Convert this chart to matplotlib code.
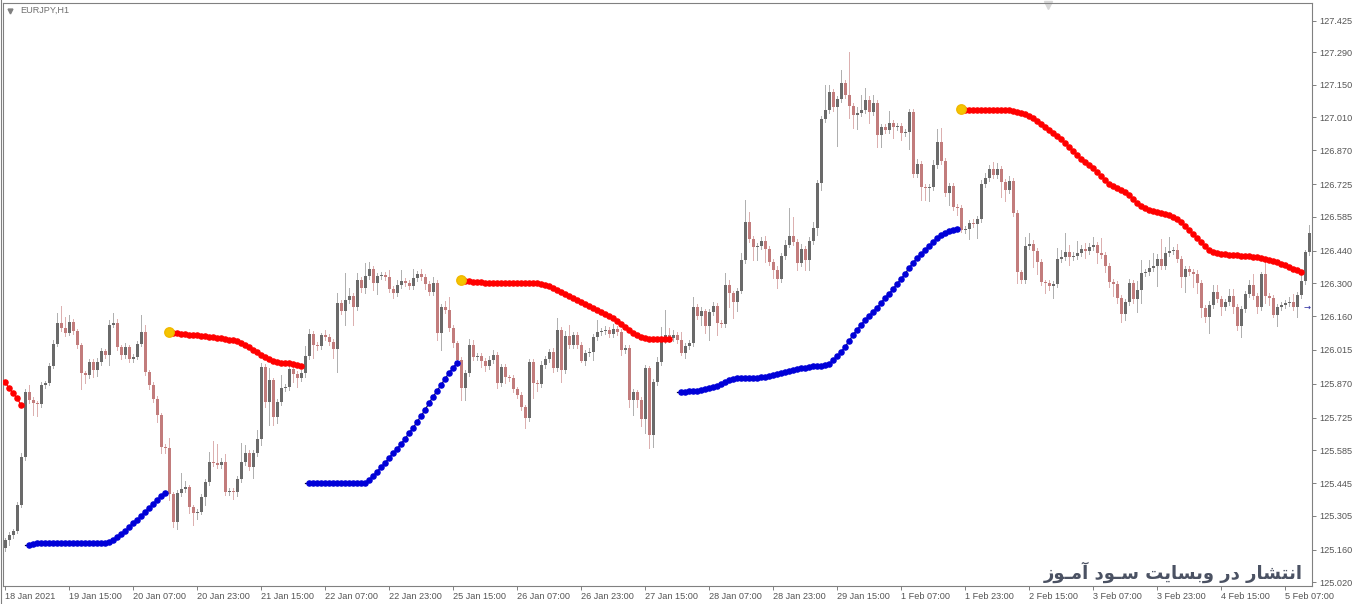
import numpy as np
import matplotlib

matplotlib.use("Agg")
import matplotlib.pyplot as plt
from matplotlib.lines import Line2D

# ---- data ------------------------------------------------------------------
symbol = "EURJPY,H1"
first_open = 125.168

closes = [
    125.201, 125.222, 125.239, 125.351, 125.556, 125.834, 125.800, 125.787, 125.785, 125.864,
    125.873, 125.946, 126.040, 126.131, 126.109, 126.088, 126.135, 126.096, 126.036, 125.916,
    125.907, 125.963, 125.929, 125.963, 126.010, 125.993, 126.122, 126.131, 126.027, 125.993,
    126.027, 125.976, 125.984, 126.040, 126.092, 125.920, 125.864, 125.804, 125.736, 125.599,
    125.594, 125.398, 125.278, 125.402, 125.419, 125.428, 125.342, 125.316, 125.321, 125.385,
    125.449, 125.535, 125.531, 125.522, 125.535, 125.406, 125.411, 125.406, 125.462, 125.535,
    125.573, 125.513, 125.573, 125.633, 125.942, 125.792, 125.886, 125.727, 125.792, 125.852,
    125.856, 125.933, 125.912, 125.894, 125.916, 125.989, 126.083, 126.036, 126.032, 126.079,
    126.070, 126.049, 126.019, 126.216, 126.181, 126.229, 126.246, 126.199, 126.314, 126.280,
    126.331, 126.361, 126.301, 126.331, 126.336, 126.327, 126.276, 126.259, 126.293, 126.310,
    126.301, 126.288, 126.323, 126.340, 126.327, 126.297, 126.263, 126.301, 126.087, 126.199,
    126.186, 126.109, 126.044, 125.972, 125.852, 125.916, 126.036, 125.984, 125.989, 125.967,
    125.946, 125.972, 125.993, 125.873, 125.942, 125.899, 125.897, 125.847, 125.822, 125.770,
    125.723, 125.963, 125.873, 125.869, 125.950, 125.976, 126.006, 125.937, 126.100, 125.929,
    126.074, 126.036, 126.079, 126.036, 125.967, 126.002, 126.006, 126.070, 126.092, 126.096,
    126.100, 126.083, 126.104, 126.092, 126.014, 126.023, 125.800, 125.834, 125.800, 125.719,
    125.937, 125.650, 125.877, 125.963, 126.057, 126.079, 126.066, 126.079, 126.057, 126.002,
    126.032, 126.044, 126.199, 126.160, 126.181, 126.117, 126.177, 126.203, 126.130, 126.128,
    126.293, 126.259, 126.220, 126.267, 126.400, 126.563, 126.490, 126.455, 126.460, 126.481,
    126.447, 126.391, 126.357, 126.318, 126.417, 126.464, 126.503, 126.477, 126.387, 126.447,
    126.400, 126.481, 126.537, 126.729, 127.003, 127.042, 127.119, 127.055, 127.089, 127.158,
    127.106, 127.059, 127.021, 127.029, 127.042, 127.085, 127.033, 127.072, 126.935, 126.969,
    126.956, 126.986, 126.969, 126.973, 126.944, 126.948, 127.033, 126.768, 126.811, 126.712,
    126.708, 126.714, 126.807, 126.905, 126.824, 126.687, 126.717, 126.627, 126.622, 126.528,
    126.532, 126.558, 126.554, 126.575, 126.725, 126.751, 126.789, 126.764, 126.789, 126.734,
    126.699, 126.738, 126.601, 126.348, 126.314, 126.460, 126.468, 126.438, 126.391, 126.306,
    126.301, 126.288, 126.297, 126.404, 126.413, 126.434, 126.413, 126.417, 126.430, 126.447,
    126.438, 126.455, 126.464, 126.430, 126.421, 126.374, 126.306, 126.297, 126.237, 126.168,
    126.220, 126.301, 126.233, 126.271, 126.344, 126.348, 126.365, 126.374, 126.404, 126.374,
    126.430, 126.438, 126.443, 126.404, 126.327, 126.361, 126.348, 126.340, 126.301, 126.194,
    126.156, 126.207, 126.263, 126.233, 126.199, 126.220, 126.246, 126.199, 126.117, 126.190,
    126.254, 126.293, 126.246, 126.199, 126.340, 126.246, 126.237, 126.164, 126.199, 126.207,
    126.216, 126.220, 126.199, 126.250, 126.310, 126.434, 126.515,
]

# wick lengths in points (0.001 JPY) above / below the body
wick_up = [
    9, 13, 9, 13, 17, 13, 30, 13, 9, 13,
    9, 13, 17, 43, 73, 47, 30, 13, 9, 9,
    9, 13, 13, 17, 13, 9, 21, 43, 17, 9,
    17, 9, 13, 13, 73, 30, 9, 13, 13, 9,
    13, 43, 9, 13, 68, 26, 9, 9, 13, 13,
    13, 43, 90, 81, 17, 34, 13, 13, 13, 81,
    34, 13, 13, 39, 17, 13, 51, 9, 13, 56,
    13, 17, 13, 13, 13, 43, 21, 13, 13, 9,
    21, 13, 13, 43, 13, 115, 34, 13, 30, 13,
    56, 30, 13, 13, 13, 13, 30, 13, 21, 47,
    13, 13, 39, 13, 21, 13, 13, 26, 13, 13,
    26, 56, 13, 9, 13, 13, 26, 21, 13, 13,
    13, 17, 21, 13, 13, 13, 9, 13, 9, 13,
    9, 13, 13, 13, 17, 13, 13, 17, 51, 13,
    21, 47, 13, 13, 13, 13, 17, 13, 51, 13,
    17, 13, 21, 13, 13, 13, 13, 13, 9, 13,
    13, 9, 13, 21, 56, 107, 30, 21, 13, 34,
    13, 13, 43, 13, 17, 9, 13, 17, 13, 13,
    51, 21, 9, 13, 30, 94, 43, 13, 13, 17,
    21, 13, 13, 17, 13, 21, 120, 81, 13, 21,
    13, 17, 26, 13, 13, 107, 30, 13, 13, 56,
    13, 184, 13, 26, 64, 51, 17, 34, 13, 13,
    13, 51, 13, 13, 13, 13, 13, 13, 21, 13,
    13, 13, 21, 56, 60, 13, 13, 13, 13, 13,
    13, 13, 17, 13, 17, 21, 17, 30, 26, 13,
    13, 21, 13, 13, 9, 39, 47, 17, 13, 13,
    9, 13, 13, 47, 30, 81, 30, 17, 51, 17,
    26, 17, 34, 13, 64, 13, 13, 13, 13, 13,
    13, 17, 13, 39, 56, 13, 34, 56, 21, 85,
    26, 60, 13, 26, 13, 13, 13, 13, 17, 13,
    13, 17, 30, 30, 13, 13, 30, 30, 13, 13,
    13, 21, 47, 13, 9, 51, 13, 13, 13, 13,
    13, 21, 34, 13, 39, 9, 34,
]
wick_dn = [
    13, 21, 13, 9, 9, 13, 13, 51, 51, 13,
    13, 9, 9, 9, 13, 13, 9, 13, 13, 68,
    34, 13, 30, 26, 13, 13, 43, 9, 13, 17,
    13, 13, 13, 9, 9, 13, 17, 13, 30, 26,
    21, 26, 21, 30, 13, 13, 26, 51, 26, 9,
    34, 13, 13, 13, 13, 13, 13, 30, 17, 13,
    13, 13, 47, 13, 26, 21, 98, 34, 26, 13,
    13, 13, 34, 39, 13, 17, 13, 56, 17, 13,
    13, 13, 39, 98, 13, 60, 13, 77, 13, 17,
    21, 13, 30, 47, 13, 13, 13, 21, 13, 13,
    13, 13, 13, 13, 13, 21, 13, 13, 30, 73,
    13, 13, 17, 26, 51, 51, 13, 13, 13, 26,
    21, 13, 13, 21, 13, 26, 13, 13, 13, 13,
    43, 13, 64, 30, 13, 13, 13, 17, 13, 51,
    13, 13, 13, 13, 4, 17, 13, 34, 13, 13,
    13, 13, 13, 13, 21, 13, 30, 64, 30, 30,
    60, 56, 51, 13, 13, 13, 17, 13, 13, 9,
    21, 13, 13, 13, 39, 30, 60, 13, 51, 13,
    13, 60, 68, 39, 9, 13, 13, 56, 56, 13,
    56, 13, 34, 38, 13, 13, 9, 13, 30, 13,
    43, 43, 13, 30, 30, 13, 13, 17, 167, 13,
    13, 51, 56, 60, 13, 13, 47, 13, 51, 51,
    13, 13, 47, 13, 30, 13, 73, 13, 13, 56,
    51, 56, 13, 13, 13, 13, 51, 13, 30, 9,
    13, 43, 13, 60, 13, 13, 13, 13, 13, 64,
    47, 13, 13, 47, 13, 13, 13, 68, 51, 13,
    43, 17, 51, 13, 13, 13, 34, 13, 13, 13,
    30, 13, 13, 43, 13, 26, 21, 51, 21, 34,
    26, 13, 17, 56, 56, 13, 13, 13, 86, 13,
    13, 13, 13, 13, 43, 64, 13, 56, 43, 39,
    21, 68, 13, 13, 34, 13, 13, 26, 17, 47,
    13, 13, 13, 26, 13, 30, 30, 9, 47, 13,
    13, 13, 13, 43, 13, 13, 13,
]

xtick_labels = [
    "18 Jan 2021", "19 Jan 15:00", "20 Jan 07:00", "20 Jan 23:00", "21 Jan 15:00",
    "22 Jan 07:00", "22 Jan 23:00", "25 Jan 15:00", "26 Jan 07:00", "26 Jan 23:00",
    "27 Jan 15:00", "28 Jan 07:00", "28 Jan 23:00", "29 Jan 15:00", "1 Feb 07:00",
    "1 Feb 23:00", "2 Feb 15:00", "3 Feb 07:00", "3 Feb 23:00", "4 Feb 15:00",
    "5 Feb 07:00",
]
bars_per_label = 16
yticks = [
    127.425, 127.290, 127.150, 127.010, 126.870, 126.725, 126.585, 126.440, 126.300,
    126.160, 126.015, 125.870, 125.725, 125.585, 125.445, 125.305, 125.160, 125.020,
]

# indicator: (first bar index, values)
red_segments = [
    (0, [125.878, 125.852, 125.831, 125.809, 125.780]),
    (42, [126.088, 126.088, 126.084, 126.084, 126.079, 126.079, 126.079, 126.075, 126.075,
          126.071, 126.071, 126.066, 126.066, 126.062, 126.058, 126.058, 126.054, 126.045,
          126.037, 126.028, 126.015, 126.007, 125.994, 125.985, 125.977, 125.968, 125.964,
          125.960, 125.960, 125.960, 125.955, 125.951, 125.947]),
    (115, [126.310, 126.310, 126.306, 126.306, 126.306]
          + [126.302] * 14
          + [126.297, 126.293, 126.289, 126.280, 126.272, 126.263, 126.255, 126.246, 126.238,
             126.229, 126.220, 126.212, 126.203, 126.195, 126.186, 126.178, 126.169, 126.161,
             126.152, 126.139, 126.126, 126.113, 126.101, 126.088, 126.079, 126.071, 126.066]
          + [126.062] * 6),
    (240, [127.042] * 12
          + [127.038, 127.034, 127.029, 127.025, 127.017, 127.008, 126.995, 126.982, 126.969,
             126.957, 126.944, 126.931, 126.918, 126.901, 126.884, 126.867, 126.850, 126.832,
             126.820, 126.807, 126.794, 126.777, 126.760, 126.743, 126.725, 126.717, 126.708,
             126.700, 126.691, 126.678, 126.661, 126.644, 126.631, 126.623, 126.614, 126.610,
             126.606, 126.601, 126.597, 126.593, 126.584, 126.576, 126.563, 126.546, 126.529,
             126.511, 126.494, 126.477, 126.460, 126.443, 126.434, 126.430, 126.426, 126.426,
             126.422, 126.422, 126.422, 126.417, 126.417, 126.417, 126.413, 126.413, 126.409,
             126.405, 126.400, 126.396, 126.392, 126.383, 126.379, 126.370, 126.362, 126.357,
             126.349]),
]
yellow_dots = [(41, 126.092), (114, 126.315), (239, 127.046)]
blue_segments = [
    (6, [125.180, 125.185] + [125.189] * 18
        + [125.193, 125.202, 125.215, 125.228, 125.240, 125.257, 125.275, 125.287, 125.305,
           125.322, 125.339, 125.356, 125.373, 125.390, 125.403]),
    (76, [125.446] * 15
         + [125.459, 125.476, 125.493, 125.514, 125.531, 125.553, 125.574, 125.591, 125.613,
            125.634, 125.660, 125.681, 125.707, 125.732, 125.758, 125.788, 125.814, 125.840,
            125.865, 125.891, 125.917, 125.938, 125.960]),
    (169, [125.835, 125.835, 125.840, 125.840, 125.840, 125.844, 125.848, 125.852, 125.857,
           125.861, 125.870, 125.878, 125.887, 125.891, 125.895, 125.895, 125.895, 125.895,
           125.895, 125.895, 125.900, 125.900, 125.904, 125.908, 125.912, 125.917, 125.921,
           125.925, 125.929, 125.934, 125.938, 125.938, 125.942, 125.947, 125.947, 125.947,
           125.951, 125.955, 125.972, 125.989, 126.006, 126.028, 126.053, 126.079, 126.101,
           126.122, 126.143, 126.161, 126.178, 126.195, 126.216, 126.238, 126.255, 126.276,
           126.297, 126.319, 126.340, 126.366, 126.387, 126.409, 126.426, 126.443, 126.460,
           126.477, 126.494, 126.507, 126.516, 126.524, 126.529, 126.533]),
]
bid_price = 126.199
watermark = "انتشار در وبسایت سـود آمـوز"


# ---- crude Persian shaping (matplotlib has no bidi / joining support) ----
FORMS = {  # isolated, final, initial, medial
    "ا": ("\uFE8D", "\uFE8E", None, None),
    "آ": ("\uFE81", "\uFE82", None, None),
    "د": ("\uFEA9", "\uFEAA", None, None),
    "ر": ("\uFEAD", "\uFEAE", None, None),
    "ز": ("\uFEAF", "\uFEB0", None, None),
    "و": ("\uFEED", "\uFEEE", None, None),
    "ب": ("\uFE8F", "\uFE90", "\uFE91", "\uFE92"),
    "ت": ("\uFE95", "\uFE96", "\uFE97", "\uFE98"),
    "س": ("\uFEB1", "\uFEB2", "\uFEB3", "\uFEB4"),
    "ش": ("\uFEB5", "\uFEB6", "\uFEB7", "\uFEB8"),
    "م": ("\uFEE1", "\uFEE2", "\uFEE3", "\uFEE4"),
    "ن": ("\uFEE5", "\uFEE6", "\uFEE7", "\uFEE8"),
    "ی": ("\uFBFC", "\uFBFD", "\uFBFE", "\uFBFF"),
}
TATWEEL = "\u0640"


def joins_forward(ch):
    return ch == TATWEEL or (ch in FORMS and FORMS[ch][2] is not None)


def joins_back(ch):
    return ch == TATWEEL or ch in FORMS


def shape_fa(text):
    out = []
    for k, ch in enumerate(text):
        if ch not in FORMS:
            out.append(ch)
            continue
        prev = text[k - 1] if k > 0 else " "
        nxt = text[k + 1] if k + 1 < len(text) else " "
        iso, fin, ini, med = FORMS[ch]
        a = joins_forward(prev)
        b = ini is not None and joins_back(nxt)
        if a and b:
            out.append(med)
        elif a:
            out.append(fin)
        elif b:
            out.append(ini)
        else:
            out.append(iso)
    return "".join(reversed(out))


# ---- OHLC ------------------------------------------------------------------
c = np.array(closes)
o = np.concatenate([[first_open], c[:-1]])
hi = np.maximum(o, c) + np.array(wick_up) / 1000.0
lo = np.minimum(o, c) - np.array(wick_dn) / 1000.0
idx = np.arange(len(c))
up = c >= o

UP_COL, DN_COL = "#6a6a6a", "#c27c7c"
UP_WICK, DN_WICK = "#b0b0b0", "#dcb0b0"
AXIS_COL = "#808080"
TXT_COL = "#555555"

fig = plt.figure(figsize=(13.6, 6.04), dpi=100)
fig.patch.set_facecolor("white")
W, H = 1360, 604
ax = fig.add_axes([3 / W, 18 / H, 1309 / W, 583 / H])
ax.set_facecolor("white")

ax.vlines(idx, lo, hi, colors=np.where(up, UP_WICK, DN_WICK), linewidth=0.6,
          antialiased=False, zorder=1)
body_h = np.maximum(np.abs(c - o), 0.003)
ax.bar(idx, body_h, bottom=np.minimum(o, c), width=0.75,
       color=np.where(up, UP_COL, DN_COL), linewidth=0, antialiased=False, zorder=2)

# red dotted line + yellow start dots
for start, vals in red_segments:
    xs = np.arange(start, start + len(vals))
    ax.plot(xs, vals, color="#ff0000", lw=0.9, marker="o", ms=3.7,
            mec="#ff0000", mfc="#ff0000", zorder=4)
for (yi, yv), (start, vals) in zip(yellow_dots, red_segments[1:]):
    ax.plot([yi, start], [yv, vals[0]], color="#cc0000", lw=0.9, zorder=4)
    ax.plot([yi], [yv], marker="o", ms=6.8, color="#f5c400", mec="#f0b800", zorder=5)

# blue dotted line
for start, vals in blue_segments:
    xs = np.arange(start, start + len(vals))
    ax.plot([start - 1, start], [vals[0], vals[0]], color="#000033", lw=0.9, zorder=4)
    ax.plot(xs, vals, color="#00004a", lw=0.9, marker="o", ms=3.7,
            mec="#0000d8", mfc="#0000d8", zorder=4)

ax.set_xlim(-0.5, 326.75)
ax.set_ylim(125.005, 127.500)

for s in ax.spines.values():
    s.set_color(AXIS_COL)
    s.set_linewidth(0.8)

ax.yaxis.tick_right()
ax.set_yticks(yticks)
ax.set_yticklabels([f"{v:.3f}" for v in yticks])
ax.tick_params(axis="y", direction="out", length=3, width=0.7, color=AXIS_COL,
               pad=2, labelsize=6.6, labelcolor=TXT_COL)
ax.set_xticks(np.arange(len(xtick_labels)) * bars_per_label)
ax.set_xticklabels(xtick_labels, ha="left")
ax.tick_params(axis="x", direction="out", length=3, width=0.7, color=AXIS_COL,
               pad=1.5, labelsize=6.6, labelcolor=TXT_COL)
for lab in ax.get_xticklabels() + ax.get_yticklabels():
    lab.set_fontfamily(["Liberation Sans", "DejaVu Sans"])

# header, markers
ax.text(0.013, 0.987, symbol, transform=ax.transAxes, fontsize=6.6, color="#707070",
        family=["Liberation Sans", "DejaVu Sans"], va="center", ha="left")
ax.plot([0.0055], [0.987], marker="v", ms=3.5, color="#808080", transform=ax.transAxes)
ax.plot([0.7985], [0.996], marker="v", ms=6, color="#d8d8d8", transform=ax.transAxes,
        clip_on=False)
ax.text(325.6, bid_price, "\u2192", fontsize=6, color="#2a2aa0", ha="center", va="center")

fig.add_artist(Line2D([0.6 / W, 0.6 / W], [0, 1], color=AXIS_COL, lw=0.8))

ax.text(0.993, 0.012, shape_fa(watermark), transform=ax.transAxes, ha="right",
        va="baseline", fontsize=13, fontweight="bold", color="#4b5263",
        family=["DejaVu Sans"])

fig.savefig("out.png", dpi=100, facecolor="white")
